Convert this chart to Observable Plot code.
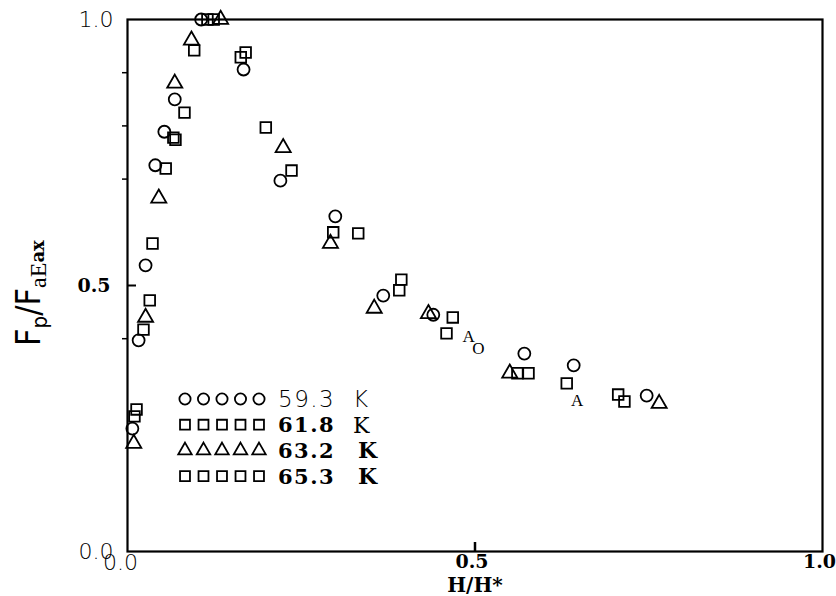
<!DOCTYPE html>
<html><head><meta charset="utf-8">
<script src="https://cdn.jsdelivr.net/npm/d3@7"></script>
<script src="https://cdn.jsdelivr.net/npm/@observablehq/plot@0.6"></script>
<style>body{margin:0;background:#fff} #chart{width:836px;height:596px}</style>
</head><body><div id="chart"></div>
<script>
// ---- data (H/H*, Fp/Fp_max) ----
const seriesNames = ["59.3 K", "61.8 K", "63.2 K", "65.3 K"];
const circleX = [0.106, 0.167, 0.068, 0.053, 0.040, 0.026, 0.016, 0.007, 0.220, 0.299, 0.368, 0.440, 0.571, 0.642, 0.747];
const circleY = [1.000, 0.906, 0.850, 0.789, 0.726, 0.538, 0.397, 0.231, 0.697, 0.630, 0.481, 0.445, 0.372, 0.350, 0.293];
const square1X = [0.115, 0.096, 0.163, 0.082, 0.066, 0.036, 0.023, 0.010, 0.199, 0.236, 0.296, 0.391, 0.459, 0.561, 0.632, 0.706];
const square1Y = [1.000, 0.942, 0.929, 0.825, 0.778, 0.579, 0.417, 0.254, 0.797, 0.716, 0.600, 0.491, 0.410, 0.335, 0.316, 0.295];
const triangleX = [0.134, 0.092, 0.068, 0.045, 0.026, 0.009, 0.224, 0.292, 0.355, 0.433, 0.550, 0.765];
const triangleY = [1.000, 0.961, 0.880, 0.664, 0.440, 0.203, 0.759, 0.579, 0.457, 0.447, 0.335, 0.278];
const square2X = [0.124, 0.170, 0.069, 0.055, 0.032, 0.013, 0.332, 0.394, 0.468, 0.577, 0.715];
const square2Y = [1.000, 0.938, 0.774, 0.720, 0.472, 0.267, 0.598, 0.511, 0.440, 0.335, 0.282];
// points that appear in the figure as letters
const glyphX = [0.491, 0.505, 0.647];
const glyphY = [0.404, 0.382, 0.284];
const glyphText = ["A", "O", "A"];
// ticks
const yTickLabels = [0, 0.5, 1];
const xTickLabels = [0, 0.5, 1];
const yMinorTicks = [0.9, 0.8, 0.7, 0.4];

const toRows = (xs, ys, s) => xs.map((x, i) => ({x, y: ys[i], series: s}));
const circles = toRows(circleX, circleY, seriesNames[0]);
const squares1 = toRows(square1X, square1Y, seriesNames[1]);
const triangles = toRows(triangleX, triangleY, seriesNames[2]);
const squares2 = toRows(square2X, square2Y, seriesNames[3]);
const glyphs = glyphX.map((x, i) => ({x, y: glyphY[i], t: glyphText[i]}));

const SANS = "'DejaVu Sans', sans-serif";
const SERIF = "'DejaVu Serif', serif";
const dotStyle = {x: "x", y: "y", stroke: "black", fill: "none", strokeWidth: 1.8};
const fmt = d3.format(".1f");

const plot = Plot.plot({
  width: 836, height: 596,
  marginLeft: 127, marginRight: 14, marginTop: 19, marginBottom: 45,
  x: {domain: [0, 1], axis: null},
  y: {domain: [0, 1], axis: null},
  style: {background: "white", color: "black"},
  marks: [
    Plot.frame({stroke: "black", strokeWidth: 2.2}),
    Plot.axisY(yMinorTicks, {anchor: "left", label: null, tickSize: 5, tickFormat: () => "", strokeWidth: 1.5}),
    Plot.ruleY([0.5], {x1: 0, x2: 9 / 695, strokeWidth: 2}),
    Plot.ruleX([0.5], {y1: 0, y2: 9 / 532, strokeWidth: 2.5}),
    Plot.axisY(yTickLabels.filter(d => d !== 0.5), {anchor: "left", label: null, tickSize: 0, tickPadding: 14, tickFormat: fmt,
      fontFamily: SANS, fontSize: 22, fontWeight: 300}),
    Plot.axisY([0.5], {anchor: "left", label: null, tickSize: 0, tickPadding: 17, tickFormat: fmt,
      fontFamily: SERIF, fontSize: 19, fontWeight: "bold"}),
    Plot.axisX(xTickLabels.filter(d => d === 0), {anchor: "bottom", label: null, tickSize: 0, tickPadding: 3, dx: -7, tickFormat: fmt,
      fontFamily: SANS, fontSize: 22, fontWeight: 300}),
    Plot.axisX(xTickLabels.filter(d => d !== 0), {anchor: "bottom", label: null, tickSize: 0, tickPadding: 3, dx: -3, tickFormat: fmt,
      fontFamily: SERIF, fontSize: 19, fontWeight: "bold"}),
    Plot.text(["H/H*"], {frameAnchor: "bottom", dy: 34, lineAnchor: "middle", fontFamily: SERIF, fontWeight: "bold", fontSize: 20}),
    Plot.dot(circles, {...dotStyle, symbol: "circle", r: 6}),
    Plot.dot(squares1, {...dotStyle, symbol: "square", r: 6}),
    Plot.dot(triangles, {...dotStyle, symbol: "triangle", r: 5.6}),
    Plot.dot(squares2, {...dotStyle, symbol: "square", r: 6}),
    Plot.text(glyphs, {x: "x", y: "y", text: "t", fontFamily: "'Liberation Serif', serif", fontSize: 17})
  ]
});
document.getElementById("chart").appendChild(plot);

// ---- y axis title ----
const svg = d3.select(plot);
const yt = svg.append("text")
  .attr("transform", "translate(40,346) rotate(-90)")
  .attr("text-anchor", "start")
  .attr("font-family", "'Liberation Sans Narrow', 'DejaVu Sans Condensed', sans-serif")
  .attr("font-size", 34).attr("fill", "black");
yt.append("tspan").text("F");
yt.append("tspan").attr("font-size", 22).attr("dy", 7).text("p");
yt.append("tspan").attr("dy", -7).text("/F");
yt.append("tspan").attr("font-family", "'Liberation Serif', serif").attr("font-size", 24).attr("dy", 6).text("aE");
yt.append("tspan").attr("font-family", SERIF).attr("font-weight", "bold").attr("font-size", 18).attr("dy", -2).text("ax");

// ---- legend ----
const symbolTypes = [d3.symbolCircle, d3.symbolSquare, d3.symbolTriangle, d3.symbolSquare];
const legendNum = ["59.3", "61.8", "63.2", "65.3"];
const legend = svg.append("g").attr("transform", "translate(185,399)").attr("text-anchor", "start");
legendNum.forEach((num, i) => {
  const row = legend.append("g").attr("transform", `translate(0,${i * 25.7})`);
  for (let k = 0; k < 5; k++) {
    row.append("path")
      .attr("d", d3.symbol(symbolTypes[i], Math.PI * (i === 2 ? 5 : 5.6) ** 2)())
      .attr("transform", `translate(${k * 18.5},0)`)
      .attr("fill", "none").attr("stroke", "black").attr("stroke-width", 1.8);
  }
  const isSans = i === 0;
  row.append("text").attr("x", 93).attr("y", 0).attr("dy", "0.36em")
    .attr("font-family", isSans ? SANS : SERIF).attr("font-weight", isSans ? 300 : "bold")
    .attr("font-size", isSans ? 23 : 21).attr("letter-spacing", 1.5)
    .text(num);
  row.append("text").attr("x", i < 2 ? 168 : 173).attr("y", 0).attr("dy", "0.36em")
    .attr("font-family", i === 0 ? SANS : SERIF).attr("font-weight", i < 2 ? (i === 0 ? 300 : "normal") : "bold")
    .attr("font-size", i === 0 ? 23 : 22)
    .text("K");
});
</script>
</body></html>
